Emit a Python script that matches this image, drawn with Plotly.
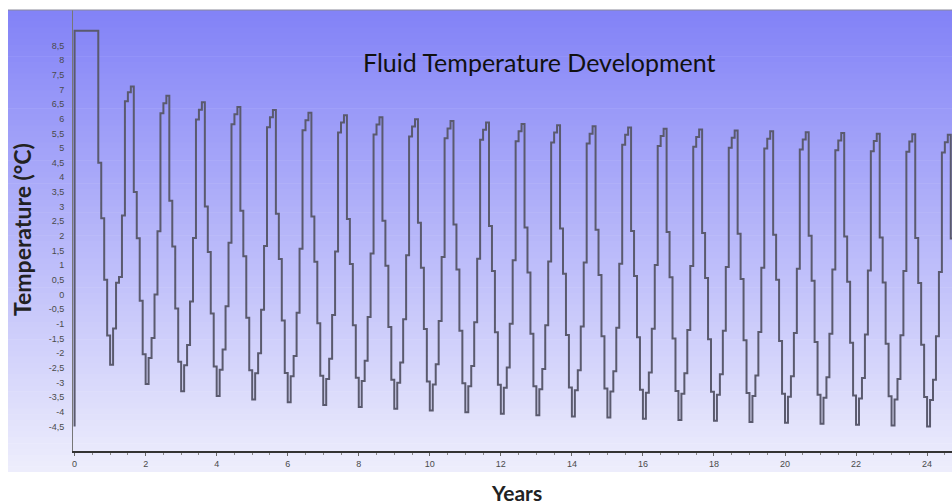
import plotly.graph_objects as go

# ---------------- data (monthly fluid temperature, °C) ----------------
start_temp = -4.5
monthly_temps = [
    [9.0, 9.0, 9.0, 9.0, 9.0, 9.0, 9.0, 9.0, 4.5, 2.6, 0.5, -1.4],          # year 0
    [-2.4, -1.16, 0.4, 0.6, 2.7, 6.6, 6.9, 7.1, 3.50, 1.92, -0.21, -2.04],  # year 1
    [-3.05, -2.17, -1.48, 0.00, 2.16, 6.19, 6.53, 6.78, 3.20, 1.64, -0.48, -2.29],
    [-3.30, -2.41, -1.72, -0.24, 1.93, 5.97, 6.31, 6.56, 3.00, 1.45, -0.65, -2.46],
    [-3.46, -2.57, -1.88, -0.40, 1.77, 5.81, 6.15, 6.40, 2.86, 1.31, -0.79, -2.58],
    [-3.58, -2.69, -2.00, -0.52, 1.66, 5.71, 6.05, 6.30, 2.76, 1.21, -0.89, -2.68],
    [-3.68, -2.79, -2.10, -0.62, 1.56, 5.61, 5.95, 6.20, 2.66, 1.12, -0.98, -2.77],
    [-3.77, -2.88, -2.19, -0.70, 1.47, 5.53, 5.87, 6.12, 2.58, 1.04, -1.05, -2.84],
    [-3.84, -2.95, -2.26, -0.77, 1.40, 5.46, 5.80, 6.05, 2.52, 0.98, -1.11, -2.91],
    [-3.90, -3.01, -2.32, -0.84, 1.34, 5.39, 5.73, 5.98, 2.45, 0.91, -1.18, -2.97],
    [-3.96, -3.07, -2.38, -0.90, 1.28, 5.33, 5.67, 5.92, 2.39, 0.85, -1.24, -3.03],
    [-4.02, -3.13, -2.44, -0.95, 1.22, 5.28, 5.62, 5.87, 2.34, 0.80, -1.29, -3.08],
    [-4.07, -3.18, -2.49, -1.00, 1.17, 5.23, 5.57, 5.82, 2.29, 0.75, -1.34, -3.13],
    [-4.12, -3.23, -2.54, -1.05, 1.13, 5.19, 5.53, 5.78, 2.25, 0.71, -1.38, -3.17],
    [-4.16, -3.27, -2.58, -1.09, 1.09, 5.15, 5.49, 5.74, 2.21, 0.67, -1.42, -3.21],
    [-4.20, -3.31, -2.62, -1.13, 1.05, 5.11, 5.45, 5.70, 2.17, 0.63, -1.46, -3.25],
    [-4.24, -3.35, -2.66, -1.17, 1.01, 5.07, 5.41, 5.66, 2.13, 0.59, -1.50, -3.29],
    [-4.28, -3.39, -2.69, -1.21, 0.97, 5.04, 5.38, 5.63, 2.10, 0.56, -1.53, -3.32],
    [-4.31, -3.42, -2.72, -1.24, 0.94, 5.01, 5.35, 5.60, 2.07, 0.53, -1.56, -3.36],
    [-4.35, -3.46, -2.76, -1.28, 0.91, 4.98, 5.32, 5.57, 2.04, 0.50, -1.59, -3.39],
    [-4.38, -3.49, -2.79, -1.31, 0.88, 4.95, 5.29, 5.54, 2.01, 0.47, -1.62, -3.42],
    [-4.41, -3.52, -2.82, -1.34, 0.85, 4.92, 5.26, 5.51, 1.98, 0.44, -1.65, -3.45],
    [-4.44, -3.55, -2.85, -1.36, 0.82, 4.89, 5.24, 5.49, 1.95, 0.41, -1.68, -3.47],
    [-4.47, -3.58, -2.88, -1.39, 0.80, 4.87, 5.22, 5.47, 1.93, 0.39, -1.71, -3.50],
    [-4.50, -3.60, -2.91, -1.42, 0.77, 4.85, 5.20, 5.45, 1.91, 0.37, -1.73, -3.52],
]
end_temp = -4.52

y_tick_vals = [8.5, 8, 7.5, 7, 6.5, 6, 5.5, 5, 4.5, 4, 3.5, 3, 2.5, 2, 1.5, 1, 0.5, 0,
               -0.5, -1, -1.5, -2, -2.5, -3, -3.5, -4, -4.5]
y_tick_text = ["8,5", "8", "7,5", "7", "6,5", "6", "5,5", "5", "4,5", "4", "3,5", "3",
               "2,5", "2", "1,5", "1", "0,5", "0", "-0,5", "-1", "-1,5", "-2", "-2,5",
               "-3", "-3,5", "-4", "-4,5"]
x_tick_vals = [0, 2, 4, 6, 8, 10, 12, 14, 16, 18, 20, 22, 24]

# ---------------- build series ----------------
xs = [0.0]
ys = [start_temp]
for yi, row in enumerate(monthly_temps):
    for mi, v in enumerate(row):
        xs.append(yi + mi / 12.0)
        ys.append(v)
xs.append(float(len(monthly_temps)))
ys.append(end_temp)

W, H = 952, 504
ML, MR, MT, MB = 73, 0, 10, 504 - 451
PW, PH = W - ML - MR, H - MT - MB


def px_x(p):  # window pixel -> paper
    return (p - ML) / PW


def px_y(p):
    return (H - MB - p) / PH


fig = go.Figure()
fig.add_trace(go.Scatter(
    x=xs, y=ys, mode="lines", line=dict(color="#5a5a6e", width=2, shape="hv"),
    hoverinfo="skip", showlegend=False))

# vertical gradient background
shapes = []
top_px, bot_px = 10, 472
c_top = (130, 130, 247)
c_bot = (238, 238, 252)
n = 80
for i in range(n):
    t = (i + 0.5) / n
    c = tuple(int(round(c_top[k] + (c_bot[k] - c_top[k]) * t)) for k in range(3))
    y0 = top_px + (bot_px - top_px) * i / n
    y1 = top_px + (bot_px - top_px) * (i + 1) / n + 0.6
    shapes.append(dict(type="rect", xref="paper", yref="paper", layer="below",
                       x0=px_x(8), x1=1.01, y0=px_y(min(y1, bot_px)), y1=px_y(y0),
                       line=dict(width=0), fillcolor="rgb(%d,%d,%d)" % c))
# thin top border of the panel
shapes.append(dict(type="line", xref="paper", yref="paper", layer="above",
                   x0=px_x(8), x1=1.01, y0=1, y1=1,
                   line=dict(color="#8a8a9a", width=1)))

fig.update_layout(
    width=W, height=H,
    margin=dict(l=ML, r=MR, t=MT, b=MB, autoexpand=False),
    paper_bgcolor="white", plot_bgcolor="rgba(0,0,0,0)",
    shapes=shapes,
    showlegend=False,
    hovermode=False,
    annotations=[
        dict(text="Fluid Temperature Development", xref="paper", yref="paper",
             x=px_x(539), y=px_y(62), showarrow=False, xanchor="center", yanchor="middle",
             font=dict(family="Lato", size=25, color="#111111")),
        dict(text="Years", xref="paper", yref="paper",
             x=px_x(516), y=px_y(492), showarrow=False, xanchor="center", yanchor="middle",
             font=dict(family="Lato", size=21, color="#222222", weight="bold")),
        dict(text="Temperature (°C)", xref="paper", yref="paper", textangle=-90,
             x=px_x(22), y=px_y(230), showarrow=False, xanchor="center", yanchor="middle",
             font=dict(family="Lato", size=23, color="#222222", weight="bold")),
    ],
)

x0 = -0.045
fig.update_xaxes(
    range=[x0, x0 + PW / 35.52], tickvals=x_tick_vals,
    ticks="outside", ticklen=3, tickcolor="#666666", tickwidth=1,
    minor=dict(dtick=0.5, ticks="outside", ticklen=2, tickcolor="#888888"),
    showgrid=False, zeroline=False,
    showline=True, linecolor="#333333", linewidth=2, mirror=False,
    tickfont=dict(family="Liberation Sans", size=9, color="#4a4a4a"),
)
fig.update_yaxes(
    range=[-5.34, 9.71], tickvals=y_tick_vals, ticktext=y_tick_text,
    ticks="outside", ticklen=6, tickcolor="rgba(0,0,0,0)",
    showgrid=False, zeroline=False,
    showline=True, linecolor="#777777", linewidth=1, mirror=False,
    tickfont=dict(family="Liberation Sans", size=9, color="#4a4a4a"),
)

# remove the page's default 8px body margin so the figure fills the window exactly
fig.write_html(
    "out.html",
    config={"displayModeBar": False, "staticPlot": True},
    post_script="document.body.style.margin='0';"
                "document.documentElement.style.overflow='hidden';"
                "document.body.style.overflow='hidden';",
)
